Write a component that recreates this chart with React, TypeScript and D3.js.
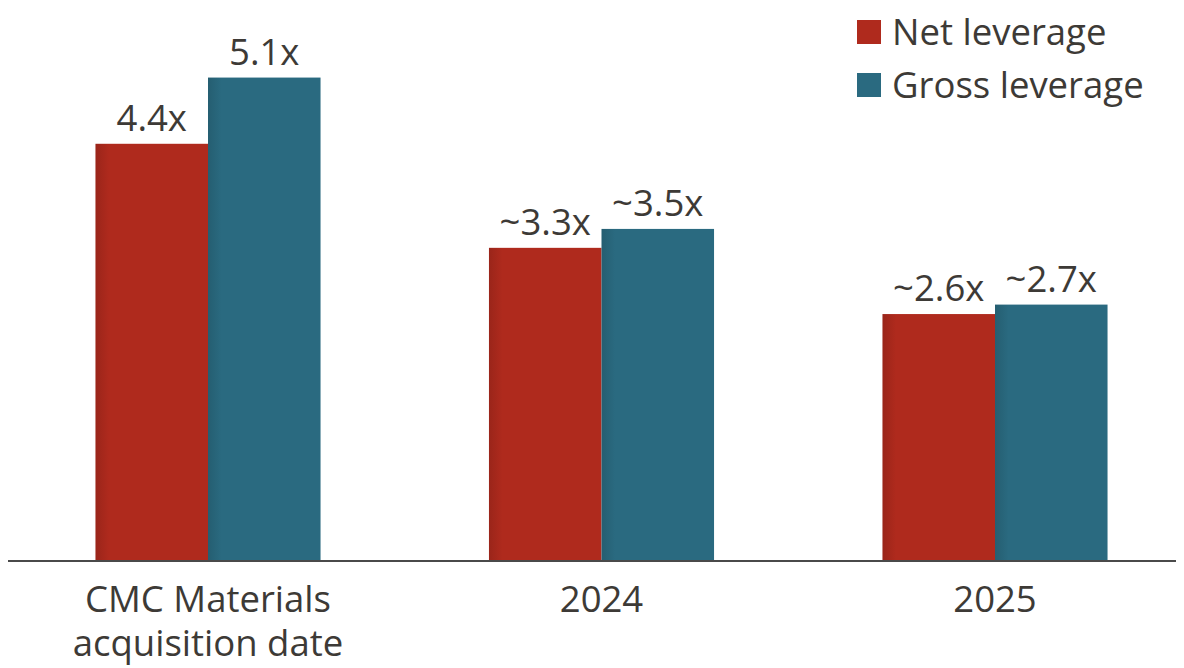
import React from "react";
import * as d3 from "d3";

const categories = ["CMC Materials\nacquisition date", "2024", "2025"];
const seriesNames = ["Net leverage", "Gross leverage"];
const netValues = [4.4, 3.3, 2.6];
const grossValues = [5.1, 3.5, 2.7];
const netLabels = ["4.4x", "~3.3x", "~2.6x"];
const grossLabels = ["5.1x", "~3.5x", "~2.7x"];

const W = 1184;
const H = 668;
const baseY = 560;
const colors = ["#AF2A1D", "#2A6A80"];
const textColor = "#3D3A36";
const font = "'Open Sans', 'Noto Sans', sans-serif";
const fs = 36.5;

export default function App() {
  const x = d3
    .scaleBand<string>()
    .domain(categories)
    .range([11.25, 1191.75])
    .paddingInner(0.428)
    .paddingOuter(0.214);
  const inner = d3
    .scaleBand<string>()
    .domain(seriesNames)
    .range([0, x.bandwidth()]);
  const y = d3.scaleLinear().domain([0, 5.92]).range([baseY, 0]);
  const series = [
    { name: seriesNames[0], values: netValues, labels: netLabels },
    { name: seriesNames[1], values: grossValues, labels: grossLabels },
  ];

  return (
    <svg
      width={W}
      height={H}
      style={{ position: "absolute", left: 0, top: 0, background: "#fff" }}
      fontFamily={font}
    >
      <defs>
        {colors.map((c, i) => (
          <linearGradient key={i} id={`g${i}`} x1="0" x2="1" y1="0" y2="0">
            <stop offset="0" stopColor={d3.color(c)!.darker(0.35).toString()} />
            <stop offset="0.12" stopColor={c} />
            <stop offset="1" stopColor={c} />
          </linearGradient>
        ))}
      </defs>
      {categories.map((cat, ci) => (
        <g key={cat} transform={`translate(${x(cat)},0)`}>
          {series.map((s, si) => {
            const bx = inner(s.name)!;
            const bw = inner.bandwidth();
            const v = s.values[ci];
            return (
              <g key={s.name}>
                <rect
                  x={bx}
                  y={y(v)}
                  width={bw}
                  height={baseY - y(v)}
                  fill={`url(#g${si})`}
                />
                <text
                  x={bx + bw / 2}
                  y={y(v) - 13}
                  textAnchor="middle"
                  fontSize={fs}
                  fill={textColor}
                >
                  {s.labels[ci]}
                </text>
              </g>
            );
          })}
          <text
            x={x.bandwidth() / 2}
            y={612}
            textAnchor="middle"
            fontSize={fs}
            fill={textColor}
          >
            {cat.split("\n").map((line, li) => (
              <tspan key={li} x={x.bandwidth() / 2} dy={li === 0 ? 0 : 44}>
                {line}
              </tspan>
            ))}
          </text>
        </g>
      ))}
      <line x1={8} x2={1176} y1={baseY + 1} y2={baseY + 1} stroke="#4a4a4a" strokeWidth={2} />
      {series.map((s, i) => (
        <g key={s.name} transform={`translate(857,${20 + i * 53})`}>
          <rect width={24} height={24} fill={colors[i]} />
          <text x={35} y={25} fontSize={fs} fill={textColor}>
            {s.name}
          </text>
        </g>
      ))}
    </svg>
  );
}
